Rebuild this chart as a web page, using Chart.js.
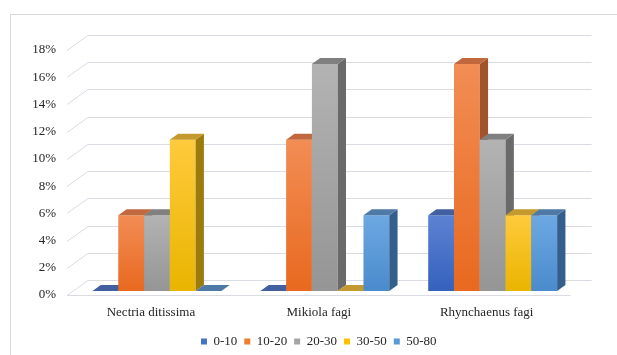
<!DOCTYPE html>
<html>
<head>
<meta charset="utf-8">
<script src="https://cdn.jsdelivr.net/npm/chart.js@4.4.1/dist/chart.umd.min.js"></script>
<style>
  html, body { margin: 0; padding: 0; background: #ffffff; }
  #wrap { width: 617px; height: 355px; }
</style>
</head>
<body>
<div id="wrap"><canvas id="chart" width="617" height="355"></canvas></div>
<script>
// Share of damaged trees per pest, by diameter class
const categories = ['Nectria ditissima', 'Mikiola fagi', 'Rhynchaenus fagi'];
const seriesNames = ['0-10', '10-20', '20-30', '30-50', '50-80'];
const values0to10  = [0, 0, 5.56];
const values10to20 = [5.56, 11.11, 16.67];
const values20to30 = [5.56, 16.67, 11.11];
const values30to50 = [11.11, 0, 5.56];
const values50to80 = [0, 5.56, 5.56];
const yTickValues = [0, 2, 4, 6, 8, 10, 12, 14, 16, 18];

// Face colours for each series: front gradient (top, bottom), top face, side face
const palette = [
  { base: '#4472C4', frontTop: '#5c82d2', frontBottom: '#3561bd', top: '#42609f', side: '#2f4f8c' },
  { base: '#ED7D31', frontTop: '#f28d55', frontBottom: '#e8691f', top: '#c2683e', side: '#a1542c' },
  { base: '#A5A5A5', frontTop: '#b3b3b3', frontBottom: '#959595', top: '#808080', side: '#6a6a6a' },
  { base: '#FFC000', frontTop: '#ffca3c', frontBottom: '#e9b500', top: '#c49a2e', side: '#9c7b0d' },
  { base: '#5B9BD5', frontTop: '#6da8e2', frontBottom: '#4a8bcc', top: '#4f7aa7', side: '#345f8c' }
];
const seriesValues = [values0to10, values10to20, values20to30, values30to50, values50to80];

const FONT = 'Liberation Serif';
const TEXT = '#262626';
const GRID = '#dadbe3';

// Perspective offsets for the back wall, the bar row and the bar depth
const wallShift = { dx: 21, dy: -15 };
const rowShift = { dx: 6, dy: -4 };
const barDepth = { dx: 8.3, dy: -6 };

function fillPoly(ctx, pts, style) {
  ctx.beginPath();
  ctx.moveTo(pts[0][0], pts[0][1]);
  for (let i = 1; i < pts.length; i++) ctx.lineTo(pts[i][0], pts[i][1]);
  ctx.closePath();
  ctx.fillStyle = style;
  ctx.fill();
}

const frame3d = {
  id: 'frame3d',
  afterLayout(chart) {
    // centre the legend under the plot area rather than the whole canvas
    const lg = chart.legend;
    if (lg) {
      lg.left = chart.chartArea.left;
      lg.width = lg.right - lg.left;
    }
  },
  beforeDraw(chart) {
    const { ctx } = chart;
    ctx.save();
    ctx.strokeStyle = '#d9d9d9';
    ctx.lineWidth = 1;
    ctx.strokeRect(10.5, 14.5, 700, 400);
    ctx.restore();
  },
  beforeDatasetsDraw(chart) {
    const { ctx, chartArea: a, scales: { y } } = chart;
    ctx.save();
    ctx.strokeStyle = GRID;
    ctx.lineWidth = 1;
    // side wall diagonals and back wall gridlines
    y.ticks.forEach(t => {
      const py = Math.round(y.getPixelForValue(t.value)) + 0.5;
      ctx.beginPath();
      ctx.moveTo(a.left, py);
      ctx.lineTo(a.left + wallShift.dx, py + wallShift.dy);
      ctx.lineTo(a.right + wallShift.dx, py + wallShift.dy);
      ctx.stroke();
    });
    // front edge of the floor
    const fy = Math.round(y.getPixelForValue(0)) + 0.5;
    ctx.beginPath();
    ctx.moveTo(a.left, fy);
    ctx.lineTo(a.right, fy);
    ctx.stroke();

    // bars as boxes, drawn left to right so neighbours overlap correctly
    const nCat = chart.data.labels.length;
    const nSet = chart.data.datasets.length;
    for (let i = 0; i < nCat; i++) {
      for (let d = 0; d < nSet; d++) {
        const el = chart.getDatasetMeta(d).data[i];
        const p = el.getProps(['x', 'y', 'base', 'width'], true);
        const c = palette[d];
        const x0 = p.x - p.width / 2 + rowShift.dx;
        const x1 = p.x + p.width / 2 + rowShift.dx;
        const yt = p.y + rowShift.dy;
        const yb = p.base + rowShift.dy;
        const h = yb - yt;
        if (h > 0.5) {
          const g = ctx.createLinearGradient(0, yt, 0, yb);
          g.addColorStop(0, c.frontTop);
          g.addColorStop(1, c.frontBottom);
          fillPoly(ctx, [[x0, yt], [x1, yt], [x1, yb], [x0, yb]], g);
          fillPoly(ctx, [[x1, yt], [x1 + barDepth.dx, yt + barDepth.dy],
                         [x1 + barDepth.dx, yb + barDepth.dy], [x1, yb]], c.side);
        }
        fillPoly(ctx, [[x0, yt], [x1, yt], [x1 + barDepth.dx, yt + barDepth.dy],
                       [x0 + barDepth.dx, yt + barDepth.dy]], c.top);
      }
    }
    ctx.restore();
    return false;
  }
};

const datasets = seriesNames.map((name, i) => ({
  label: name,
  data: seriesValues[i],
  backgroundColor: palette[i].base,
  borderWidth: 0
}));

new Chart(document.getElementById('chart'), {
  type: 'bar',
  data: { labels: categories, datasets },
  options: {
    responsive: false,
    animation: false,
    devicePixelRatio: 1,
    layout: { padding: { left: 0, right: 46.4, top: 50, bottom: -3 } },
    datasets: { bar: { barPercentage: 1, categoryPercentage: 0.768 } },
    plugins: {
      tooltip: { enabled: false },
      legend: {
        position: 'bottom',
        labels: {
          font: { family: FONT, size: 13 },
          color: TEXT,
          boxWidth: 6,
          boxHeight: 6,
          padding: 7
        }
      }
    },
    scales: {
      x: {
        grid: { display: false, drawTicks: false },
        border: { display: false },
        ticks: { font: { family: FONT, size: 13 }, color: TEXT, padding: 10 },
        afterFit(scale) { scale.height = 33; }
      },
      y: {
        min: 0,
        max: 18,
        afterBuildTicks(scale) { scale.ticks = yTickValues.map(v => ({ value: v })); },
        grid: { display: false, drawTicks: false },
        border: { display: false },
        ticks: {
          font: { family: FONT, size: 13 },
          color: TEXT,
          padding: 11,
          callback: v => v + '%'
        },
        afterFit(scale) { scale.width = 67; }
      }
    }
  },
  plugins: [frame3d]
});
</script>
</body>
</html>
